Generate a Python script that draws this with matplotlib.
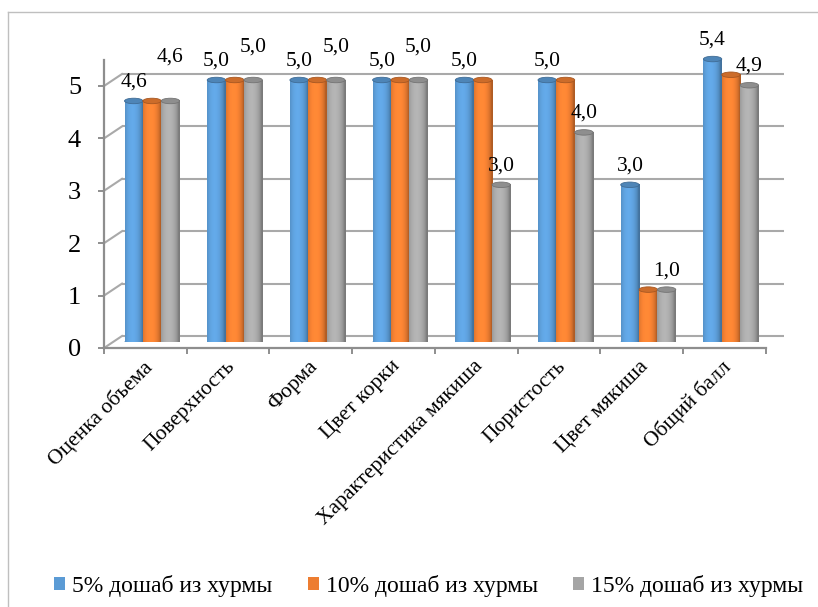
import numpy as np
import matplotlib
matplotlib.use("Agg")
import matplotlib.pyplot as plt
from matplotlib.patches import Ellipse, Patch
from matplotlib.lines import Line2D
from matplotlib.colors import to_rgb

# ---- data ----
categories = ["Оценка объема", "Поверхность", "Форма", "Цвет корки",
              "Характеристика мякиша", "Пористость", "Цвет мякиша", "Общий балл"]
series_names = ["5% дошаб из хурмы", "10% дошаб из хурмы", "15% дошаб из хурмы"]
s5 = [4.6, 5.0, 5.0, 5.0, 5.0, 5.0, 3.0, 5.4]
s10 = [4.6, 5.0, 5.0, 5.0, 5.0, 5.0, 1.0, 5.1]
s15 = [4.6, 5.0, 5.0, 5.0, 3.0, 4.0, 1.0, 4.9]
y_ticks = [0, 1, 2, 3, 4, 5]

# ---- style ----
colors = ["#5B9BD5", "#ED7D31", "#A5A5A5"]
labelled = [True, False, True]            # which series carry value labels
label_lift_px = [[0] * 8, [0] * 8, [25, 14, 14, 14, 0, 0, 0, 0]]
FONT = "Liberation Serif"
plt.rcParams["font.family"] = [FONT, "DejaVu Serif"]

W, H = 818, 607
fig = plt.figure(figsize=(W / 100, H / 100), dpi=100)

# pseudo-3D geometry (pixels)
MID_LEFT, MID_ZERO = 110.7, 342.0
CAT, UNIT = 82.7, 52.4
NCAT, YMAX = len(categories), 6.0


def add_plane(dx, dy, z):
    rect = [(MID_LEFT + dx) / W, (H - (MID_ZERO + dy)) / H,
            NCAT * CAT / W, YMAX * UNIT / H]
    a = fig.add_axes(rect, zorder=z)
    a.set_xlim(0, NCAT)
    a.set_ylim(0, YMAX)
    a.patch.set_alpha(0)
    for s in a.spines.values():
        s.set_visible(False)
    a.set_xticks([])
    a.set_yticks([])
    return a


back = add_plane(11.3, -6.0, 0)
front = add_plane(-6.7, 6.0, 1)
ax = add_plane(0.0, 0.0, 2)

# outer chart border
fig.add_artist(Line2D([8 / W, 8 / W], [0, 1 - 12 / H], color="#BFBFBF", lw=1.0))
fig.add_artist(Line2D([8 / W, 1], [1 - 12 / H, 1 - 12 / H], color="#BFBFBF", lw=1.0))

# back wall gridlines plus side-wall connectors
grid_c = "#A9A9A9"
for v in y_ticks:
    back.plot([0, NCAT], [v, v], color=grid_c, lw=1.5, clip_on=False, solid_capstyle="butt")
    back.plot([-18 / CAT, 0], [v - 12 / UNIT, v], color=grid_c, lw=1.5, clip_on=False)

# front axis: vertical value axis and floor edge
axis_c = "#8E8E8E"
front.spines["left"].set_visible(True)
front.spines["left"].set_bounds(0, 5.5)
front.spines["bottom"].set_visible(True)
front.spines["bottom"].set_bounds(0, NCAT)
for side in ("left", "bottom"):
    front.spines[side].set_color(axis_c)
    front.spines[side].set_linewidth(1.6)
front.set_yticks(y_ticks)
front.set_yticklabels([str(t) for t in y_ticks], fontsize=19, family=FONT)
front.tick_params(axis="y", length=4.5, width=1.4, color=axis_c, pad=12)
front.set_xticks(np.arange(NCAT + 1))
front.set_xticklabels([])
front.tick_params(axis="x", which="major", length=4, width=1.4, color=axis_c)

# rotated category names, right-top anchored just below the floor edge
for i, name in enumerate(categories):
    front.annotate(name, (i + 0.5, 0), xytext=(-3, -9), textcoords="offset pixels",
                   rotation=45, rotation_mode="anchor", ha="right", va="top",
                   fontsize=15.5, family=FONT, annotation_clip=False)

# cylinders
bw = 0.222
cap_h = 5.5 / UNIT
t = np.linspace(0, 1, 64)
shade = 0.74 + 0.36 * np.clip(np.cos((t - 0.4) * np.pi * 0.95), 0, 1) ** 0.6
all_series = [s5, s10, s15]
for j, (vals, col) in enumerate(zip(all_series, colors)):
    base = np.array(to_rgb(col))
    grad = np.clip(base[None, :] * shade[:, None], 0, 1)[None, :, :]
    for i, v in enumerate(vals):
        xc = i + 0.5 + (j - 1) * bw
        x0, x1 = xc - bw / 2, xc + bw / 2
        ax.add_patch(Ellipse((xc, 0), bw, cap_h, color=tuple(base * 0.78), zorder=2, lw=0))
        ax.imshow(grad, extent=(x0, x1, 0, v), aspect="auto", zorder=3,
                  interpolation="bilinear")
        ax.add_patch(Ellipse((xc, v), bw, cap_h, facecolor=tuple(base * 0.86),
                             edgecolor=tuple(base * 0.7), lw=0.6, zorder=4))
        if labelled[j]:
            ax.annotate(f"{v:.1f}".replace(".", ","), (xc, v),
                        xytext=(0, 19 + label_lift_px[j][i]), textcoords="offset pixels",
                        ha="center", va="center", fontsize=15.5, family=FONT,
                        annotation_clip=False)
ax.set_xlim(0, NCAT)
ax.set_ylim(0, YMAX)

# legend
handles = [Patch(facecolor=c, edgecolor="none") for c in colors]
fig.legend(handles, series_names, loc="center", bbox_to_anchor=(0.524, 1 - 586 / H),
           ncol=3, frameon=False, prop={"family": FONT, "size": 17},
           handlelength=0.47, handleheight=0.47, handletextpad=0.3, columnspacing=1.5)

fig.savefig("out.png", dpi=100)
